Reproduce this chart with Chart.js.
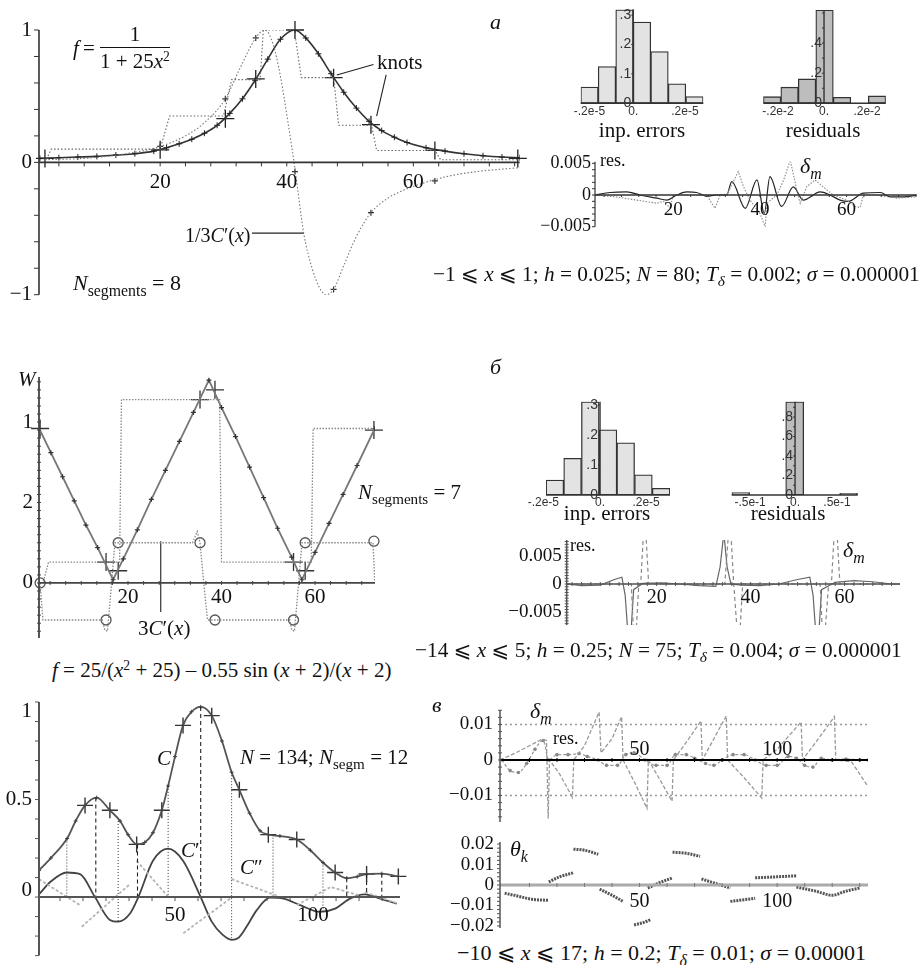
<!DOCTYPE html>
<html>
<head>
<meta charset="utf-8">
<script src="https://cdn.jsdelivr.net/npm/chart.js@4/dist/chart.umd.min.js"></script>
<style>
body { margin: 0; background: #fff; width: 922px; height: 965px; position: relative; overflow: hidden; }
canvas { position: absolute; }
.t { position: absolute; font-family: "Liberation Serif", "DejaVu Serif", serif; font-size: 21px; line-height: 1; white-space: nowrap; color: #111; }
.c { transform: translateX(-50%); }
.m { font-family: "Liberation Serif", "DejaVu Sans", serif; font-size: 21.3px; }
sub { font-size: 72%; vertical-align: -0.35em; line-height: 0; }
sup { font-size: 65%; vertical-align: 0.55em; line-height: 0; }
.fr { display: inline-flex; flex-direction: column; align-items: center; margin-left: 5px; }
.den { border-top: 1.2px solid #111; padding-top: 3px; margin-top: 2px; }
</style>
</head>
<body>
<canvas id="cA" width="530" height="305" style="left:0;top:0"></canvas>
<canvas id="cAe" width="180" height="120" style="left:540px;top:0"></canvas>
<canvas id="cAr" width="170" height="120" style="left:740px;top:0"></canvas>
<canvas id="cAd" width="382" height="90" style="left:540px;top:150px"></canvas>
<canvas id="cB" width="500" height="290" style="left:0;top:365px"></canvas>
<canvas id="cBe" width="180" height="125" style="left:510px;top:385px"></canvas>
<canvas id="cBr" width="180" height="125" style="left:700px;top:385px"></canvas>
<canvas id="cBd" width="422" height="105" style="left:500px;top:530px"></canvas>
<canvas id="cC" width="420" height="275" style="left:0;top:690px"></canvas>
<canvas id="cCd" width="482" height="135" style="left:440px;top:695px"></canvas>
<canvas id="cCt" width="482" height="105" style="left:440px;top:835px"></canvas>

<!-- panel а -->
<div class="t" style="left:73px;top:24px;display:flex;align-items:center"><i>f</i>&thinsp;=<span class="fr"><span>1</span><span class="den">1 + 25<i>x</i><sup>2</sup></span></span></div>
<div class="t" style="left:377px;top:52px">knots</div>
<div class="t" style="left:185px;top:225px;font-size:20px">1/3<i>C</i>′(<i>x</i>)</div>
<div class="t" style="left:73px;top:272px;font-size:22px"><i>N</i><sub>segments</sub> = 8</div>
<div class="t" style="left:490px;top:11px;font-size:22px"><i>а</i></div>
<div class="t c" style="left:642px;top:120px">inp. errors</div>
<div class="t c" style="left:823px;top:120px">residuals</div>
<div class="t" style="left:600px;top:151px;font-size:18px">res.</div>
<div class="t" style="left:800px;top:155px;font-size:22px"><i>δ</i><sub><i>m</i></sub></div>
<div class="t m" style="left:433px;top:264px">−1 ⩽ <i>x</i> ⩽ 1; <i>h</i> = 0.025; <i>N</i> = 80; <i>T</i><sub><i>δ</i></sub> = 0.002; <i>σ</i> = 0.000001</div>

<!-- panel б -->
<div class="t" style="left:490px;top:356px;font-size:22px"><i>б</i></div>
<div class="t" style="left:18px;top:369px"><i>W</i></div>
<div class="t" style="left:358px;top:482px"><i>N</i><sub>segments</sub> = 7</div>
<div class="t" style="left:138px;top:618px">3<i>C</i>′(<i>x</i>)</div>
<div class="t c" style="left:607px;top:503px">inp. errors</div>
<div class="t c" style="left:788px;top:503px">residuals</div>
<div class="t" style="left:570px;top:536px;font-size:18px">res.</div>
<div class="t" style="left:843px;top:539px;font-size:22px"><i>δ</i><sub><i>m</i></sub></div>
<div class="t m" style="left:415px;top:640px">−14 ⩽ <i>x</i> ⩽ 5; <i>h</i> = 0.25; <i>N</i> = 75; <i>T</i><sub><i>δ</i></sub> = 0.004; <i>σ</i> = 0.000001</div>

<!-- panel в -->
<div class="t" style="left:52px;top:660px"><i>f</i> = 25/(<i>x</i><sup>2</sup> + 25) – 0.55 sin (<i>x</i> + 2)/(<i>x</i> + 2)</div>
<div class="t" style="left:157px;top:748px"><i>C</i></div>
<div class="t" style="left:181px;top:840px"><i>C</i>′</div>
<div class="t" style="left:240px;top:857px"><i>C</i>″</div>
<div class="t" style="left:240px;top:747px"><i>N</i> = 134; <i>N</i><sub>segm</sub> = 12</div>
<div class="t" style="left:432px;top:694px;font-size:22px"><i>в</i></div>
<div class="t" style="left:530px;top:700px;font-size:22px"><i>δ</i><sub><i>m</i></sub></div>
<div class="t" style="left:553px;top:729px;font-size:18px">res.</div>
<div class="t" style="left:510px;top:838px;font-size:22px"><i>θ</i><sub><i>k</i></sub></div>
<div class="t m" style="left:457px;top:942px;font-size:22px">−10 ⩽ <i>x</i> ⩽ 17; <i>h</i> = 0.2; <i>T</i><sub><i>δ</i></sub> = 0.01; <i>σ</i> = 0.00001</div>

<script>
// ---------- panel а : f = 1/(1+25x^2) ----------
const aFx = [1, 4, 7, 10, 13, 16, 19, 21, 23, 25, 27, 29, 31, 33, 35, 37, 39, 41.3, 43, 45, 47, 49, 51, 53, 55, 57, 59, 62, 65, 68, 71, 74, 76.8];
const aFy = [0.03, 0.035, 0.04, 0.045, 0.055, 0.065, 0.085, 0.11, 0.14, 0.175, 0.22, 0.28, 0.37, 0.48, 0.62, 0.78, 0.93, 1.0, 0.94, 0.82, 0.67, 0.53, 0.41, 0.31, 0.24, 0.19, 0.15, 0.11, 0.085, 0.065, 0.05, 0.04, 0.035];
const aKnotX = [1.8, 20, 30.3, 35.1, 41.3, 47.4, 53.3, 63.4, 76.5];
const aKnotY = [0.03, 0.095, 0.33, 0.63, 1.0, 0.64, 0.285, 0.09, 0.03];
const aStepX = [1.8, 2.8, 20, 21.5, 30, 31.3, 35.8, 36.3, 41.2, 42.3, 47.4, 48.2, 53.4, 54.2, 63.4, 64.3, 76.8];
const aStepY = [0.0, 0.1, 0.1, 0.35, 0.35, 0.625, 0.625, 1.0, 1.0, 0.64, 0.64, 0.28, 0.28, 0.09, 0.09, 0.02, 0.02];
const aDerX = [1.8, 8, 14, 20, 24, 27, 30.3, 32.5, 35.1, 36.5, 37.8, 39, 40.2, 41.3, 42.7, 44, 45.2, 46.2, 47.4, 49, 51, 53.3, 56, 59, 62, 66, 70, 76.8];
const aDerY = [0.02, 0.03, 0.06, 0.12, 0.2, 0.3, 0.48, 0.7, 0.94, 1.0, 0.9, 0.65, 0.3, -0.05, -0.54, -0.8, -0.95, -1.0, -0.96, -0.78, -0.56, -0.38, -0.27, -0.2, -0.15, -0.1, -0.07, -0.04];
const aDerKnotX = [20, 30.3, 35.1, 41.3, 47.4, 53.3, 63.4];
const aDerKnotY = [0.12, 0.48, 0.94, -0.07, -0.96, -0.38, -0.14];
const aLeadX = [[53.7, 47.9], [55.7, 54.2], [34.5, 42.7]];
const aLeadY = [[0.74, 0.66], [0.66, 0.35], [-0.535, -0.535]];
const aXTicks = [20, 40, 60];
const aXText = ['20', '40', '60'];
const aYTicks = [1, 0, -1];
const aYText = ['1', '0', '−1'];

const aErrX = [-2.5, -1.5, -0.5, 0.5, 1.5, 2.5, 3.5];
const aErrH = [0.055, 0.125, 0.318, 0.276, 0.176, 0.066, 0.023];
const aErrTickX = [-2.5, 0, 2.95];
const aErrTickText = ['-.2e-5', '0.', '.2e-5'];
const aErrYTicks = [0.3, 0.2, 0.1, 0];
const aErrYText = ['.3', '.2', '.1', '0'];
const aResX = [-2.97, -1.97, -0.97, 0.03, 1.03, 2.03, 3.03];
const aResH = [0.044, 0.107, 0.162, 0.62, 0.04, 0, 0.049];
const aResTickX = [-2.63, 0, 2.46];
const aResTickText = ['-.2e-2', '0.', '.2e-2'];
const aResYTicks = [0.4, 0.2, 0];
const aResYText = ['.4', '.2', '0'];

const aRx = [1.9, 5.4, 9.2, 12.3, 16.2, 18.5, 20.8, 23.1, 25.4, 27.7, 30, 32.3, 33.5, 36.6, 39.3, 41, 42.3, 45, 47.7, 50, 53.9, 56.2, 58.5, 60.4, 63.9, 67.8, 70.1, 73.2, 76.2];
const aRy = [0, 0.0004, 0.0005, 0, -0.0005, -0.0008, 0, 0.0005, 0.0004, -0.0002, 0, 0, 0.0021, -0.0021, 0.0024, -0.0029, 0.0029, -0.0018, 0.0013, -0.0008, 0.0005, 0, -0.0008, -0.001, 0.0003, 0.0004, -0.0003, -0.0003, 0];
const aDx = [1.9, 6.9, 11.5, 16.2, 17.7, 19.2, 20, 27.7, 29.6, 30.8, 32.3, 35, 36.2, 37.7, 40, 41.2, 41.6, 43.9, 45.5, 47.0, 48.5, 49.3, 50.8, 52.7, 54.6, 56.9, 60, 62, 63.1, 63.9, 67, 71.6, 76.2];
const aDy = [0, -0.0003, -0.0008, -0.0013, -0.001, -0.002, 0, 0, -0.0021, 0, 0, 0.0037, 0.0013, -0.0008, -0.0029, -0.005, -0.0013, 0, 0.0024, 0.0055, 0.0008, -0.0013, 0.0013, 0.0024, 0.0013, 0, -0.0008, -0.0018, -0.002, 0, 0, -0.0005, -0.0003];
const aRXTicks = [20, 40, 60];
const aRYTicks = [0.005, 0, -0.005];
const aRYText = ['0.005', '0', '−0.005'];

// ---------- panel б : triangle W ----------
const bWx = [1, 3.5, 6, 8.5, 11, 13.5, 16.8, 19, 22, 25, 28, 31, 34, 37.3, 40, 43, 46, 49, 52, 55, 57.2, 60, 63, 66, 69, 72.8];
const bWy = [0.96, 0.81, 0.66, 0.51, 0.36, 0.22, 0.02, 0.15, 0.33, 0.52, 0.70, 0.88, 1.06, 1.26, 1.09, 0.91, 0.72, 0.53, 0.34, 0.16, 0.02, 0.19, 0.37, 0.55, 0.73, 0.96];
const bKnotX = [1.2, 15.3, 17.9, 35.4, 38.6, 55.4, 57.9, 72.6];
const bKnotY = [0.96, 0.13, 0.076, 1.14, 1.2, 0.13, 0.076, 0.95];
const bStepX = [1.9, 3, 16.4, 18.2, 18.6, 36.5, 39.6, 40.0, 56.2, 59.2, 59.6, 72.6];
const bStepY = [0.01, 0.13, 0.13, 0.13, 1.14, 1.14, 1.14, 0.13, 0.13, 0.13, 0.96, 0.96];
const bCx = [1.2, 1.8, 14.5, 15.0, 15.6, 16.2, 17.2, 17.9, 33.8, 34.8, 35.4, 36.2, 37.0, 38.6, 54.6, 55.0, 55.6, 56.2, 57.2, 57.9, 72.4, 72.8];
const bCy = [0.0, -0.23, -0.23, -0.29, -0.3, -0.1, 0.25, 0.25, 0.25, 0.32, 0.25, 0.0, -0.23, -0.23, -0.23, -0.29, -0.3, -0.1, 0.25, 0.25, 0.25, 0.0];
const bCircX = [1.2, 15.3, 17.9, 35.4, 38.6, 55.4, 57.9, 72.6];
const bCircY = [0.0, -0.23, 0.25, 0.25, -0.23, -0.23, 0.25, 0.26];
const bLeadX = [27, 27];
const bLeadY = [0.26, -0.18];
const bXTicks = [20, 40, 60];
const bYTicks = [1, 0.5, 0];
const bYText = ['1', '2', '0'];

const bErrX = [-2.55, -1.55, -0.55, 0.45, 1.45, 2.45, 3.45];
const bErrH = [0.05, 0.122, 0.311, 0.217, 0.174, 0.067, 0.022];
const bErrTickX = [-3.2, 0, 2.6];
const bErrTickText = ['-.2e-5', '0.', '.2e-5'];
const bErrYTicks = [0.3, 0.2, 0.1, 0];
const bErrYText = ['.3', '.2', '.1', '0'];
const bResX = [-3.02, -2.02, -1.02, -0.02, 0.98, 1.98, 2.98];
const bResH = [0.024, 0, 0, 0.957, 0, 0, 0.017];
const bResTickX = [-2.5, 0, 2.33];
const bResTickText = ['-.5e-1', '0.', '.5e-1'];
const bResYTicks = [0.8, 0.6, 0.4, 0.2, 0];
const bResYText = ['.8', '.6', '.4', '.2', '0'];

const bRx = [0.85, 4, 8, 11, 12.6, 13.3, 13.9, 14.5, 15.1, 17, 21, 25, 29, 32.6, 33.5, 34.3, 35.0, 35.8, 38, 42, 46, 50, 52.6, 53.3, 53.9, 54.5, 55.1, 58, 62, 66, 70, 71.8];
const bRy = [0, -0.0003, -0.0002, 0.0008, 0.0012, -0.002, -0.009, -0.009, -0.001, 0.0001, 0.0002, 0, -0.0003, -0.0004, 0.003, 0.009, 0.003, 0, -0.0002, -0.0003, 0, 0.0008, 0.0012, -0.002, -0.009, -0.009, -0.001, 0.0003, 0.0006, 0.0004, 0, 0];
const bDx = [0.85, 12, 14.6, 15.1, 15.6, 16.2, 16.6, 17.2, 17.7, 18.3, 18.8, 30, 34.5, 35.3, 35.8, 36.4, 37.2, 37.7, 38.3, 38.9, 50, 54.8, 55.3, 55.8, 56.6, 57.2, 57.8, 58.4, 59, 71.8];
const bDy = [0, 0, 0, -0.009, -0.009, 0, 0, 0.009, 0.009, 0, 0, 0, 0, 0.009, 0.009, 0, -0.009, -0.009, 0, 0, 0, 0, -0.009, -0.009, 0, 0, 0.009, 0.009, 0, 0];
const bRYTicks = [0.005, 0, -0.005];
const bRYText = ['0.005', '0', '−0.005'];

// ---------- panel в : f = 25/(x^2+25) - 0.55 sin(x+2)/(x+2) ----------
const cCx = [0.7, 5, 10.9, 14, 17.4, 21.6, 26.4, 30.1, 33, 36.1, 39, 42, 45.2, 47.5, 50, 52.9, 56, 59.3, 63.3, 67, 70.5, 73.3, 77, 80.8, 83.8, 88, 94.1, 99, 103.6, 108, 112.2, 116, 119.4, 124.9, 130.9];
const cCy = [0.136, 0.2, 0.30, 0.39, 0.47, 0.51, 0.445, 0.39, 0.32, 0.27, 0.28, 0.33, 0.445, 0.57, 0.72, 0.88, 0.95, 0.975, 0.93, 0.8, 0.64, 0.55, 0.43, 0.34, 0.32, 0.313, 0.295, 0.24, 0.177, 0.126, 0.097, 0.105, 0.118, 0.12, 0.106];
const cKnotX = [17.4, 26.4, 36.1, 45.2, 52.9, 63.3, 73.3, 83.8, 94.1, 108, 119.4, 130.9];
const cKnotY = [0.47, 0.445, 0.27, 0.445, 0.88, 0.93, 0.55, 0.32, 0.295, 0.126, 0.118, 0.106];
const cDx = [0.7, 5, 10.8, 15.6, 21, 26.4, 29.4, 33.7, 36.7, 42, 47.5, 52.9, 59.3, 63.3, 67, 70.5, 72.9, 76, 79.6, 84.4, 89.3, 95.3, 102.5, 108, 113.4, 118.8, 124.3, 130.3];
const cDy = [0.014, 0.08, 0.126, 0.118, 0, -0.117, -0.126, -0.084, 0, 0.186, 0.248, 0.186, 0, -0.126, -0.19, -0.219, -0.21, -0.15, -0.067, -0.003, -0.008, -0.041, -0.076, -0.059, -0.008, 0.014, -0.008, -0.034];
const cD2x = [[0.7, 15.6], [16.2, 33.7], [36.1, 47.6], [53, 70.5], [70.5, 86.8], [94.1, 106.2], [106.8, 118.8], [118.8, 130.9]];
const cD2y = [[0.092, -0.042], [-0.152, 0.067], [0.186, 0], [-0.185, -0.003], [0.092, 0.008], [-0.041, 0.05], [0.05, 0], [0.025, -0.034]];
const cDashX = [21.3, 36.4, 59.3, 112.2, 119.4, 124.9];
const cDashTop = [0.51, 0.27, 0.975, 0.097, 0.118, 0.12];
const cDashBot = [0, 0, 0, 0, 0.014, 0];
const cDotX = [10.8, 29.4, 47.5, 70.5, 85.5, 103.6];
const cDotTop = [0.30, 0.39, 0.57, 0.64, 0.32, 0.177];
const cDotBot = [0, -0.126, 0, -0.219, 0, -0.076];
const cXTicks = [50, 100];
const cYTicks = [1, 0.5, 0];
const cYText = ['1', '0.5', '0'];

const dMx = [-0.7, 5, 10, 14.5, 16.2, 16.8, 17.3, 21, 25.6, 26.1, 30, 35.3, 36, 40, 43.5, 44, 48, 52.7, 53.2, 57, 61.8, 62.3, 67, 72.3, 72.8, 77, 81.5, 82, 88, 94.4, 94.9, 100, 108.7, 109.2, 115, 120.8, 121.3, 127, 133];
const dMy = [0, 0.002, 0.004, 0.0058, 0.0055, -0.0165, 0, -0.004, -0.0105, 0, 0.004, 0.0135, 0.002, 0.006, 0.0122, 0, -0.006, -0.0136, 0, -0.005, -0.0116, 0, 0.005, 0.011, 0, 0.006, 0.0124, 0, -0.005, -0.0107, 0, 0.003, 0.0107, 0, 0.006, 0.0122, 0, -0.0005, -0.0075];
const dRx = [0, 3, 6, 9, 12, 15, 17, 20, 24, 28, 31, 35, 38, 42, 45, 48, 52, 56, 60, 63, 67, 70, 74, 77, 80, 84, 88, 92, 96, 100, 104, 107, 110, 113, 116, 120, 125, 130, 133];
const dRy = [0, -0.003, -0.0035, -0.001, 0.003, 0.0055, 0, 0.0015, 0.0015, 0.0018, 0.001, 0, -0.0015, -0.0015, 0.0015, 0.002, 0, -0.0015, -0.0015, 0.0015, 0.0015, 0.0005, -0.001, -0.0015, 0, 0.0015, 0.0015, 0, -0.0015, -0.0015, 0.001, 0.0005, -0.0015, -0.002, 0.0005, 0, 0.0003, 0, 0];
const dThr = [0.01, -0.01];
const dXTicks = [50, 100];
const dYTicks = [0.01, 0, -0.01];
const dYText = ['0.01', '0', '−0.01'];

const thX = [[1, 6, 11, 17], [17, 21, 26], [26, 30, 35], [35.5, 40, 44], [48, 51, 54], [53, 57, 62], [62, 67, 72], [72.5, 77, 83], [83, 88, 92], [92, 100, 107], [107, 114, 120, 125, 130]];
const thY = [[-0.004, -0.0055, -0.007, -0.0075], [0.0015, 0.004, 0.006], [0.0175, 0.017, 0.015], [-0.002, -0.005, -0.008], [-0.0195, -0.0185, -0.017], [-0.0015, 0.001, 0.0035], [0.016, 0.0155, 0.014], [0.003, 0.001, -0.0015], [-0.008, -0.0072, -0.0065], [0.0035, 0.004, 0.0045], [-0.001, -0.003, -0.005, -0.003, -0.0015]];
const thYTicks = [0.02, 0.01, 0, -0.01, -0.02];
const thYText = ['0.02', '0.01', '0', '−0.01', '−0.02'];

// ---------- helpers ----------
const SERIF = '"Liberation Serif", serif';
const P = (xs, ys) => xs.map((x, i) => ({ x, y: ys[i] }));
const segs = (xss, yss) => xss.flatMap((xs, k) => [...P(xs, yss[k]), { x: xs[xs.length - 1], y: null }]);
const vlines = (xs, top, bot) => xs.flatMap((x, i) => [{ x, y: top[i] }, { x, y: bot[i] }, { x, y: null }]);

const line = (data, color, width, dash, extra) => Object.assign({
    type: 'line', data, borderColor: color, borderWidth: width, borderDash: dash || [],
    pointRadius: 0, fill: false, tension: 0
}, extra || {});
const marks = (data, style, r, color, w, extra) => Object.assign({
    type: 'line', data, showLine: false, pointStyle: style, pointRadius: r,
    pointBorderColor: color, pointBackgroundColor: '#fff', pointBorderWidth: w, clip: false
}, extra || {});
// histogram bars touch each other: width taken from the neighbour spacing
const bars = (xs, hs, fill) => ({
    type: 'bar', data: P(xs, hs), backgroundColor: fill, borderColor: '#333', borderWidth: 1.3,
    barThickness: 'flex', barPercentage: 1, categoryPercentage: 1, borderSkipped: false
});

// axes drawn Maple-style, crossing inside the plot
const axesCfg = {};
const mapleAxes = {
    id: 'mapleAxes',
    afterDatasetsDraw(chart) {
        const o = axesCfg[chart.canvas.id];
        if (!o) return;
        const ctx = chart.ctx, xs = chart.scales.x, ys = chart.scales.y;
        const seg = (x1, y1, x2, y2) => { ctx.beginPath(); ctx.moveTo(x1, y1); ctx.lineTo(x2, y2); ctx.stroke(); };
        const steps = (a, hi) => {
            const out = [];
            if (!a.step) return out;
            const n = Math.floor((hi - a.start) / a.step + 1e-6);
            for (let i = 0; i <= n; i++) out.push(a.start + i * a.step);
            return out;
        };
        ctx.save();
        if (o.x) {
            const a = o.x, y0 = ys.getPixelForValue(a.at || 0);
            ctx.strokeStyle = a.color || '#333';
            ctx.lineWidth = a.width || 1.5;
            seg(xs.getPixelForValue(xs.min), y0, xs.getPixelForValue(xs.max), y0);
            ctx.lineWidth = 1;
            ctx.strokeStyle = a.tickColor || a.color || '#333';
            steps(a, xs.max).forEach(v => {
                const p = xs.getPixelForValue(v);
                seg(p, y0 - (a.up || 0), p, y0 + (a.down || 0));
            });
            ctx.fillStyle = a.text || '#111';
            ctx.font = a.font;
            ctx.textAlign = 'center';
            ctx.textBaseline = 'middle';
            (a.ticks || []).forEach((v, i) => ctx.fillText(a.labels[i], xs.getPixelForValue(v), y0 + a.dy));
        }
        if (o.y) {
            const a = o.y, x0 = xs.getPixelForValue(a.at ?? xs.min);
            ctx.strokeStyle = a.color || '#333';
            ctx.lineWidth = a.width || 1.5;
            seg(x0, ys.getPixelForValue(ys.min), x0, ys.getPixelForValue(ys.max));
            ctx.lineWidth = 1;
            steps(a, ys.max).forEach(v => {
                const p = ys.getPixelForValue(v);
                seg(x0 - (a.left || 0), p, x0 + (a.right || 0), p);
            });
            ctx.fillStyle = a.text || '#111';
            ctx.font = a.font;
            ctx.textAlign = 'right';
            ctx.textBaseline = 'middle';
            (a.ticks || []).forEach((v, i) =>
                ctx.fillText(a.labels[i], x0 - a.gap, ys.getPixelForValue(v) + (a.dys ? a.dys[i] : 0)));
        }
        ctx.restore();
    }
};

function plot(id, pad, xr, yr, datasets, axes) {
    axesCfg[id] = axes;
    return new Chart(document.getElementById(id), {
        type: 'line',
        data: { datasets },
        options: {
            responsive: false,
            animation: false,
            devicePixelRatio: 1,
            layout: { padding: pad },
            plugins: { legend: { display: false }, tooltip: { enabled: false } },
            scales: {
                // offset off: bar datasets would otherwise widen the value range
                x: { type: 'linear', min: xr[0], max: xr[1], offset: false, display: false },
                y: { type: 'linear', min: yr[0], max: yr[1], offset: false, display: false }
            }
        },
        plugins: [mapleAxes]
    });
}

// ---------- panel а charts ----------
plot('cA', { left: 39, right: 8, top: 30, bottom: 8 }, [0.86, 76.8], [-1, 1], [
    line(P(aStepX, aStepY), '#666', 1.1, [1.5, 2]),
    line(P(aDerX, aDerY), '#777', 1.1, [1.5, 2], { cubicInterpolationMode: 'monotone' }),
    marks(P(aDerKnotX, aDerKnotY), 'cross', 3, '#333', 1.2),
    line(P(aFx, aFy), '#333', 1.6, [], {
        cubicInterpolationMode: 'monotone', pointStyle: 'cross', pointRadius: 3,
        pointBorderColor: '#222', pointBorderWidth: 1
    }),
    marks(P(aKnotX, aKnotY), 'cross', 9, '#222', 1.3),
    ...aLeadX.map((xs, i) => line(P(xs, aLeadY[i]), '#222', 1.1))
], {
    x: { step: 4, start: 4, down: 4, ticks: aXTicks, labels: aXText, dy: 20, font: '21px ' + SERIF, width: 1.6 },
    y: { step: 0.2, start: -1, left: 5, ticks: aYTicks, labels: aYText, gap: 7, font: '21px ' + SERIF, width: 1.6 }
});

const HFONT = '12px "Liberation Sans", sans-serif';
const HYFONT = '14px "Liberation Sans", sans-serif';
plot('cAe', { left: 40.7, right: 16.7, top: 9.2, bottom: 16.7 }, [-3, 4], [0, 0.32], [
    bars(aErrX, aErrH, '#e3e3e3')
], {
    x: { ticks: aErrTickX, labels: aErrTickText, dy: 8, font: HFONT, width: 1.5, text: '#333' },
    y: { at: 0, step: 0.1, start: 0, left: 2, ticks: aErrYTicks, labels: aErrYText, gap: 2, font: HYFONT, width: 1.4, text: '#333' }
});
plot('cAr', { left: 23.3, right: 24.2, top: 10, bottom: 16.7 }, [-3.47, 3.53], [0, 0.62], [
    bars(aResX, aResH, '#bdbdbd')
], {
    x: { ticks: aResTickX, labels: aResTickText, dy: 8, font: HFONT, width: 1.5, text: '#333' },
    y: { at: 0, step: 0.1, start: 0, left: 2, ticks: aResYTicks, labels: aResYText, gap: 2, font: HYFONT, width: 1.4, text: '#333' }
});

plot('cAd', { left: 55, right: 5.3, top: 11.7, bottom: 13.3 }, [1.9, 76.2], [-0.005, 0.00526], [
    line(P(aDx, aDy), '#888', 1.1, [1.5, 1.5]),
    line(P(aRx, aRy), '#222', 1.2, [], { cubicInterpolationMode: 'monotone' })
], {
    x: { step: 4, start: 4, down: 2, ticks: aRXTicks, labels: aXText, dy: 15, font: '19px ' + SERIF, width: 1.3 },
    y: { step: 0.001, start: -0.005, left: 3, ticks: aRYTicks, labels: aRYText, gap: 4, font: '18px ' + SERIF, width: 1.2 }
});

// ---------- panel б charts ----------
plot('cB', { left: 39, right: 125, top: 12, bottom: 17 }, [0.96, 72.83], [-0.342, 1.28], [
    line(P(bStepX, bStepY), '#888', 1.3, [1.5, 1.5]),
    line(P(bCx, bCy), '#888', 1.3, [1.5, 1.5]),
    marks(P(bCircX, bCircY), 'circle', 5, '#555', 1.3),
    line(P(bWx, bWy), '#777', 1.8, [], {
        pointStyle: 'cross', pointRadius: 2.5, pointBorderColor: '#333', pointBorderWidth: 1.2
    }),
    marks(P(bKnotX, bKnotY), 'cross', 9, '#333', 1.3),
    line(P(bLeadX, bLeadY), '#222', 1.1)
], {
    x: { step: 10 / 3, start: 10 / 3, up: 2, down: 2, ticks: bXTicks, labels: aXText, dy: 15, font: '21px ' + SERIF, width: 1.8, color: '#444' },
    y: { step: 0.05, start: -0.3, left: 2, right: 2, ticks: bYTicks, labels: bYText, gap: 6, font: '21px ' + SERIF, width: 1.8, color: '#444' }
});

plot('cBe', { left: 36, right: 20, top: 16.7, bottom: 15 }, [-3.05, 3.95], [0, 0.311], [
    bars(bErrX, bErrH, '#e3e3e3')
], {
    x: { ticks: bErrTickX, labels: bErrTickText, dy: 8, font: HFONT, width: 1.5, text: '#333' },
    y: { at: 0, step: 0.1, start: 0, left: 2, ticks: bErrYTicks, labels: bErrYText, gap: 2, font: HYFONT, width: 1.4, text: '#333' }
});
plot('cBr', { left: 31.7, right: 22.3, top: 16.7, bottom: 15 }, [-3.52, 3.48], [0, 0.957], [
    bars(bResX, bResH, '#bdbdbd')
], {
    x: { ticks: bResTickX, labels: bResTickText, dy: 8, font: HFONT, width: 1.5, text: '#333' },
    y: { at: 0, step: 0.1, start: 0, left: 2, ticks: bResYTicks, labels: bResYText, gap: 2, font: HYFONT, width: 1.4, text: '#333' }
});

plot('cBd', { left: 66.7, right: 22, top: 10, bottom: 10 }, [0.85, 71.8], [-0.00724, 0.00777], [
    line(P(bDx, bDy), '#888', 1.2, [4, 3]),
    line(P(bRx, bRy), '#666', 1.2)
], {
    x: { step: 2, start: 2, up: 2, down: 2, ticks: bXTicks, labels: aXText, dy: 14, font: '20px ' + SERIF, width: 1.5, color: '#555' },
    y: { step: 0.0005, start: -0.007, left: 2, right: 2, ticks: bRYTicks, labels: bRYText, gap: 5, font: '19px ' + SERIF, width: 1.5, color: '#555' }
});

// ---------- panel в charts ----------
plot('cC', { left: 39, right: 20, top: 12, bottom: 5.6 }, [0.72, 131.5], [-0.3, 1.0], [
    line(vlines(cDotX, cDotTop, cDotBot), '#333', 1, [1, 2]),
    line(vlines(cDashX, cDashTop, cDashBot), '#222', 1.1, [4, 3]),
    line(segs(cD2x, cD2y), '#b5b5b5', 1.8, [3, 2]),
    line(P(cDx, cDy), '#444', 1.8, [], { cubicInterpolationMode: 'monotone' }),
    line(P(cCx, cCy), '#555', 1.8, [], {
        cubicInterpolationMode: 'monotone', pointStyle: 'cross', pointRadius: 2,
        pointBorderColor: '#444', pointBorderWidth: 1
    }),
    marks(P(cKnotX, cKnotY), 'cross', 8, '#333', 1.4)
], {
    x: { step: 50 / 6, start: 50 / 6, down: 4, ticks: cXTicks, labels: ['50', '100'], dy: 18, font: '21px ' + SERIF, width: 2, color: '#555' },
    y: { step: 0.1, start: -0.3, left: 4, ticks: cYTicks, labels: cYText, dys: [9, 0, -7], gap: 7, font: '21px ' + SERIF, width: 2, color: '#555' }
});

plot('cCd', { left: 60, right: 54, top: 15, bottom: 8 }, [-0.7, 133], [-0.01746, 0.01408], [
    ...dThr.map(v => line(P([-0.7, 133], [v, v]), '#999', 1.3, [2, 3])),
    line(P(dMx, dMy), '#999', 1.3, [4, 2]),
    line(P(dRx, dRy), '#999', 1.2, [3, 2], {
        cubicInterpolationMode: 'monotone', pointRadius: 1.8, pointBackgroundColor: '#888', pointBorderColor: '#888', pointBorderWidth: 0
    })
], {
    x: { step: 10, start: 10, up: 2, down: 2, ticks: dXTicks, labels: ['50', '100'], dy: -10, font: '20px ' + SERIF, width: 2.2, color: '#000' },
    y: { step: 0.002, start: -0.016, left: 2, right: 2, ticks: dYTicks, labels: dYText, gap: 7, font: '19px ' + SERIF, width: 1.5, color: '#555' }
});

plot('cCt', { left: 60, right: 54, top: 7, bottom: 12 }, [-0.7, 133], [-0.021, 0.021], [
    line(segs(thX, thY), '#555', 3, [2, 1], { cubicInterpolationMode: 'monotone' })
], {
    x: { step: 10, start: 10, up: 2, down: 2, ticks: dXTicks, labels: ['50', '100'], dy: 17, font: '20px ' + SERIF, width: 3, color: '#aaa', tickColor: '#777' },
    y: { step: 0.002, start: -0.02, left: 3, ticks: thYTicks, labels: thYText, gap: 6, font: '19px ' + SERIF, width: 1.5, color: '#555' }
});
</script>
</body>
</html>
